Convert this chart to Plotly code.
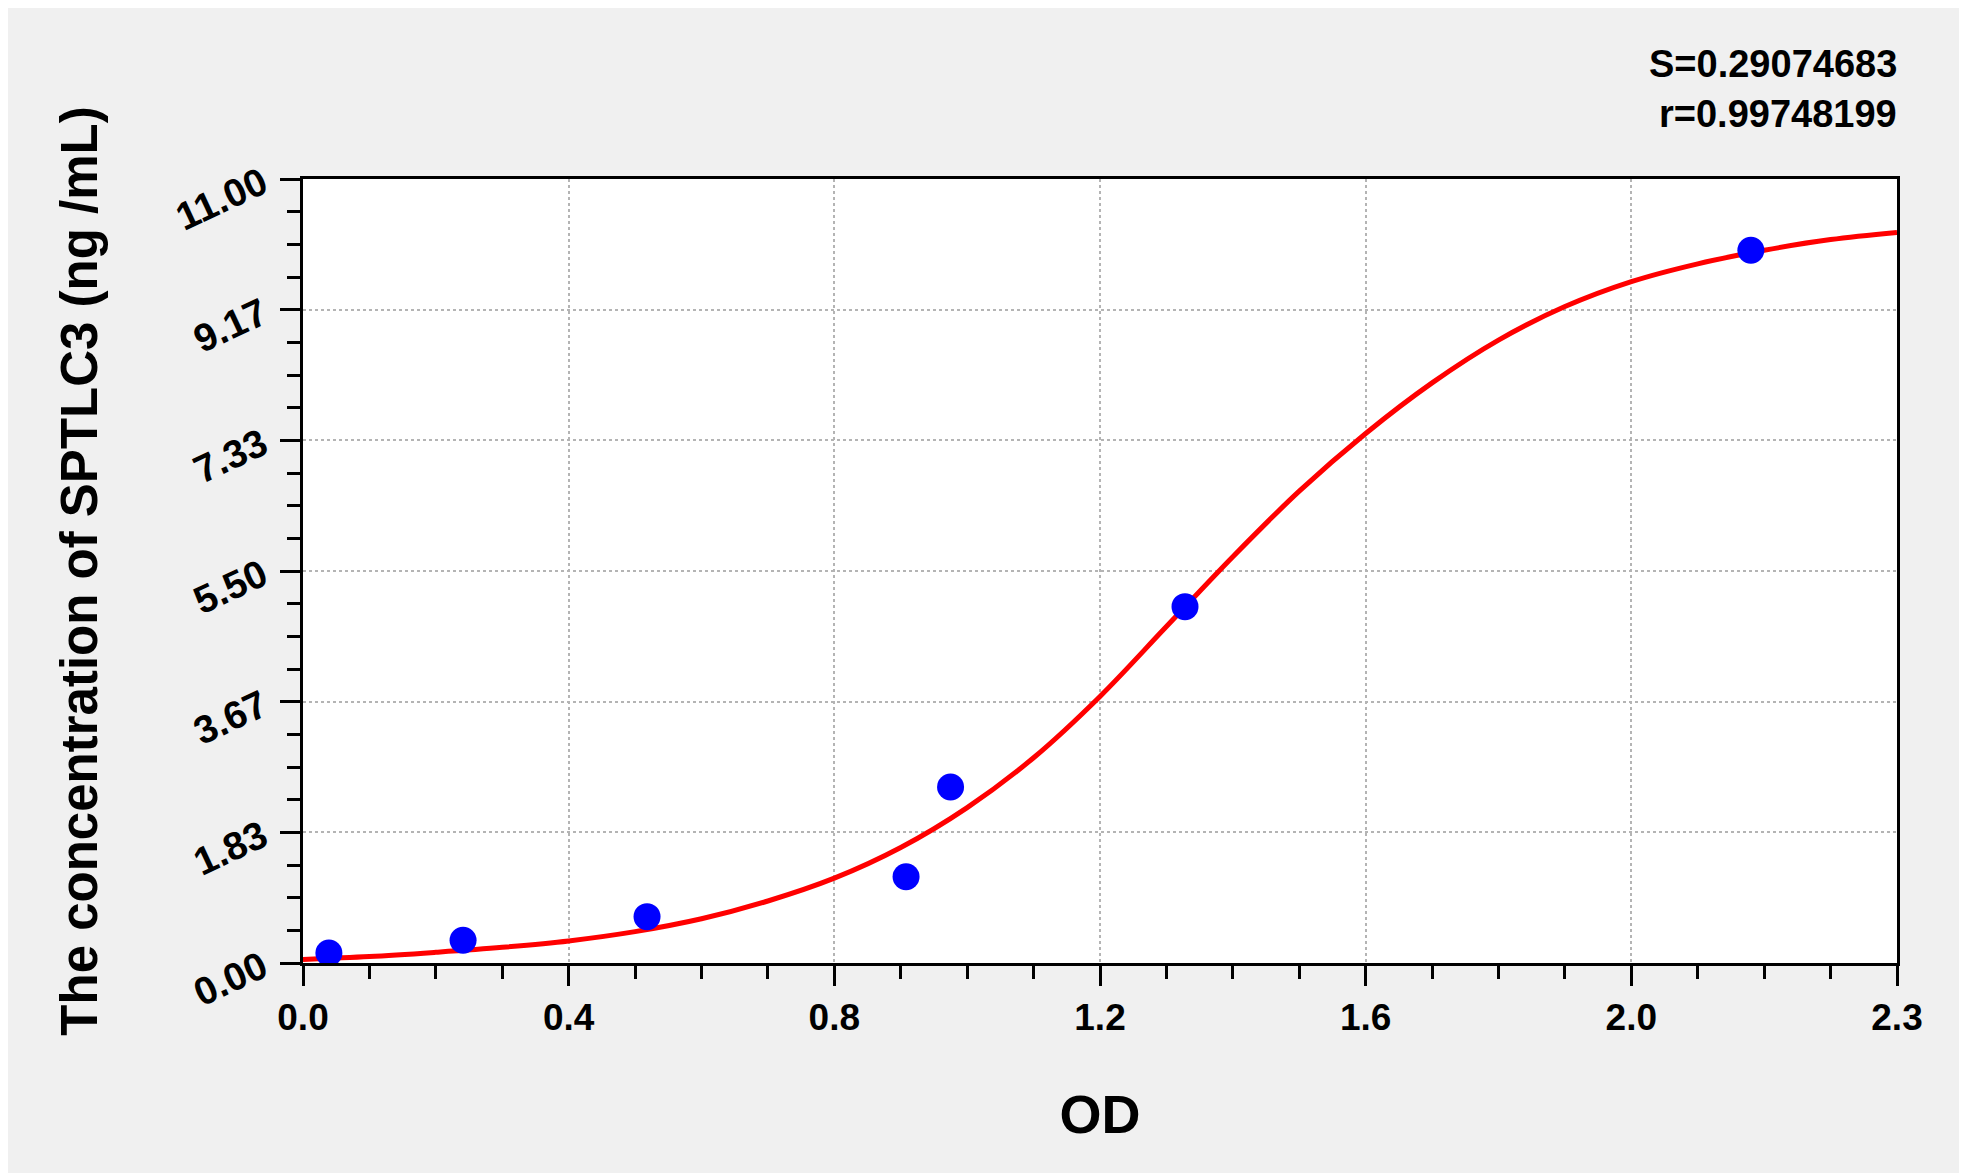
import plotly.graph_objects as go

# standard points
od = [0.039, 0.241, 0.518, 0.908, 0.975, 1.328, 2.180]
conc = [0.14, 0.32, 0.65, 1.21, 2.47, 5.00, 10.00]

# fitted curve
curve_od = [0.0, 0.1, 0.2, 0.3, 0.4, 0.5, 0.6, 0.7, 0.8, 0.9, 1.0, 1.1, 1.2,
            1.3, 1.4, 1.5, 1.6, 1.7, 1.8, 1.9, 2.0, 2.1, 2.2, 2.3, 2.4]
curve_conc = [0.05, 0.09, 0.15, 0.22, 0.31, 0.44, 0.62, 0.87, 1.19, 1.62, 2.18,
              2.88, 3.74, 4.72, 5.70, 6.62, 7.43, 8.14, 8.74, 9.21, 9.56, 9.81,
              10.00, 10.15, 10.25]

x_tickvals = [0.0, 0.4, 0.8, 1.2, 1.6, 2.0, 2.4]
x_ticktext = ["0.0", "0.4", "0.8", "1.2", "1.6", "2.0", "2.3"]
y_tickvals = [11 * k / 6 for k in range(7)]
y_ticktext = ["0.00", "1.83", "3.67", "5.50", "7.33", "9.17", "11.00"]

stats = ["S=0.29074683", "r=0.99748199"]

font = "Liberation Sans, Arial, sans-serif"

fig = go.Figure()
fig.add_trace(go.Scatter(x=curve_od, y=curve_conc, mode="lines",
                         line=dict(color="#ff0000", width=5, shape="spline"),
                         showlegend=False))
fig.add_trace(go.Scatter(x=od, y=conc, mode="markers",
                         marker=dict(color="#0000ff", size=27), showlegend=False))

axis_common = dict(showline=True, linecolor="black", linewidth=3, mirror=True,
                   ticks="outside", ticklen=20, tickwidth=3, tickcolor="black",
                   showgrid=True, gridcolor="#b4b4b4", griddash="dot", gridwidth=1.5,
                   zeroline=False)

fig.update_xaxes(range=[0, 2.4], tickmode="array", tickvals=x_tickvals, ticktext=x_ticktext,
                 tickfont=dict(family=font, size=37, color="black", weight="bold"),
                 minor=dict(tickmode="array", tickvals=[i / 10 for i in range(25)],
                            ticks="outside", ticklen=13, tickwidth=3, tickcolor="black",
                            showgrid=False),
                 title=dict(text="<b>OD</b>", font=dict(family=font, size=54, color="black"),
                            standoff=58),
                 **axis_common)
fig.update_yaxes(range=[0, 11], tickmode="array", tickvals=y_tickvals, ticktext=y_ticktext,
                 tickangle=-25, ticklabelstandoff=10,
                 tickfont=dict(family=font, size=39, color="black", weight="bold"),
                 minor=dict(tickmode="array", tickvals=[11 * k / 24 for k in range(25)],
                            ticks="outside", ticklen=13, tickwidth=3, tickcolor="black",
                            showgrid=False),
                 title=dict(text="<b>The concentration of SPTLC3 (ng /mL)</b>",
                            font=dict(family=font, size=51, color="black"), standoff=56),
                 **axis_common)

for i, s in enumerate(stats):
    fig.add_annotation(text="<b>" + s + "</b>", xref="paper", yref="paper",
                       x=1.001, y=1.0 + 0.147 - i * 0.064, xanchor="right", yanchor="middle",
                       showarrow=False, font=dict(family=font, size=38, color="black"))

fig.update_layout(width=1967, height=1173, paper_bgcolor="#f0f0f0", plot_bgcolor="white",
                  margin=dict(l=295, r=78, t=171, b=218))

fig.write_html("out.html")
